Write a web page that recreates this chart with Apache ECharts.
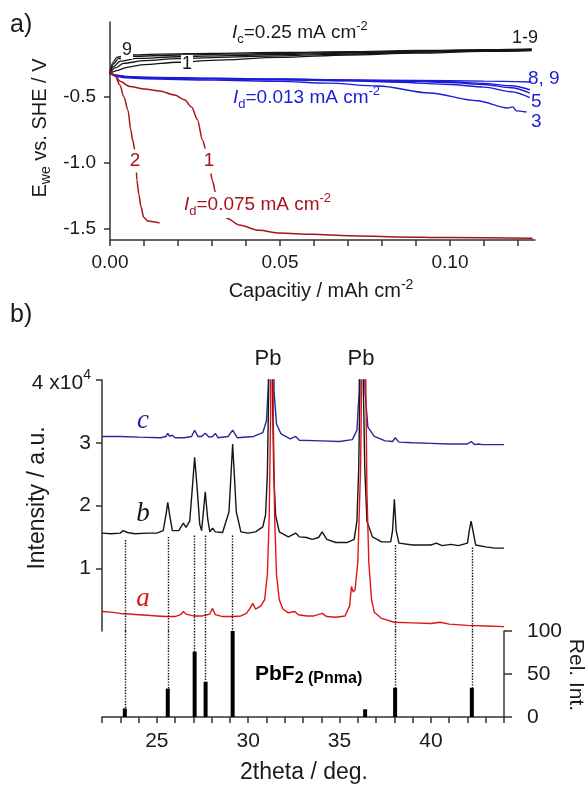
<!DOCTYPE html>
<html><head><meta charset="utf-8">
<script src="https://cdn.jsdelivr.net/npm/echarts@6/dist/echarts.min.js"></script>
<style>html,body{margin:0;padding:0;background:#fff}#c{width:586px;height:788px}</style>
</head><body><div id="c"></div>
<script>
// ---------- Panel a: galvanostatic curves (capacity / mAh cm^-2, E / V) ----------
const chg1 = [[0,-0.32],[0.002,-0.3],[0.005,-0.275],[0.01,-0.255],[0.02,-0.237],[0.03,-0.222],[0.05,-0.2],[0.07,-0.182],[0.09,-0.168],[0.11,-0.155],[0.124,-0.148]];
const chg3 = [[0,-0.32],[0.0015,-0.28],[0.004,-0.245],[0.01,-0.225],[0.02,-0.21],[0.035,-0.198],[0.05,-0.188],[0.07,-0.175],[0.09,-0.162],[0.11,-0.152],[0.124,-0.146]];
const chg5 = [[0,-0.32],[0.001,-0.27],[0.003,-0.228],[0.008,-0.208],[0.02,-0.195],[0.035,-0.186],[0.05,-0.178],[0.07,-0.168],[0.09,-0.158],[0.11,-0.15],[0.124,-0.143]];
const chg7 = [[0,-0.32],[0.001,-0.25],[0.0025,-0.21],[0.006,-0.192],[0.02,-0.183],[0.035,-0.176],[0.05,-0.17],[0.07,-0.162],[0.09,-0.153],[0.11,-0.146],[0.124,-0.14]];
const chg9 = [[0,-0.32],[0.0008,-0.24],[0.002,-0.2],[0.005,-0.182],[0.015,-0.175],[0.03,-0.17],[0.05,-0.163],[0.07,-0.156],[0.09,-0.148],[0.11,-0.142],[0.124,-0.136]];

const dis9 = [[0,-0.32],[0.002,-0.335],[0.005,-0.345],[0.01,-0.35],[0.03,-0.358],[0.05,-0.364],[0.07,-0.37],[0.09,-0.375],[0.11,-0.38],[0.124,-0.386]];
const dis7 = [[0,-0.32],[0.002,-0.337],[0.005,-0.347],[0.01,-0.352],[0.03,-0.36],[0.05,-0.366],[0.07,-0.372],[0.09,-0.38],[0.1,-0.385],[0.11,-0.397],[0.118,-0.415],[0.1235,-0.445]];
const dis6 = [[0,-0.32],[0.002,-0.338],[0.005,-0.348],[0.01,-0.353],[0.03,-0.361],[0.05,-0.368],[0.07,-0.375],[0.09,-0.382],[0.1,-0.39],[0.11,-0.405],[0.118,-0.43],[0.1235,-0.47]];
const dis5 = [[0,-0.32],[0.002,-0.34],[0.005,-0.35],[0.01,-0.355],[0.03,-0.362],[0.05,-0.37],[0.07,-0.378],[0.085,-0.388],[0.1,-0.405],[0.11,-0.425],[0.118,-0.46],[0.1235,-0.505]];
const dis3 = [[0,-0.32],[0.002,-0.345],[0.005,-0.355],[0.01,-0.362],[0.03,-0.372],[0.05,-0.382],[0.064,-0.395],[0.079,-0.417],[0.094,-0.47],[0.108,-0.528],[0.117,-0.583],[0.1185,-0.575],[0.1195,-0.605],[0.1225,-0.614]];

const red1 = [[0,-0.3],[0.0015,-0.34],[0.0029,-0.38],[0.0058,-0.42],[0.0102,-0.44],[0.0146,-0.455],[0.019,-0.485],[0.0219,-0.52],[0.024,-0.576],[0.0257,-0.67],[0.0272,-0.826],[0.0284,-0.92],[0.0292,-1.015],[0.0301,-1.13],[0.031,-1.22],[0.0322,-1.31],[0.0345,-1.42],[0.038,-1.47],[0.0439,-1.51],[0.0497,-1.53],[0.0594,-1.54],[0.0702,-1.55],[0.0848,-1.56],[0.0994,-1.565],[0.1243,-1.57]];
const red2 = [[0,-0.3],[0.0015,-0.34],[0.0029,-0.41],[0.0041,-0.5],[0.0053,-0.6],[0.0061,-0.75],[0.0067,-0.83],[0.0073,-0.9],[0.0076,-0.977],[0.0079,-1.13],[0.0085,-1.24],[0.0091,-1.33],[0.0099,-1.41],[0.0111,-1.44],[0.0132,-1.447],[0.0146,-1.455]];

const capTicks = [0,0.01,0.02,0.03,0.04,0.05,0.06,0.07,0.08,0.09,0.10,0.11,0.12];
const capLabels = [0,0.05,0.10];
const eTicks = [-1.5,-1.0,-0.5];

// ---------- Panel b: XRD (2theta / deg, intensity x10^4) ----------
const xrdC = [[22,3.1],[23,3.1],[24,3.09],[25.2,3.08],[25.5,3.1],[25.6,3.15],[25.7,3.1],[25.85,3.12],[26.0,3.08],[26.5,3.08],[26.9,3.1],[27.07,3.2],[27.25,3.1],[27.45,3.1],[27.65,3.15],[27.85,3.09],[28.05,3.1],[28.2,3.15],[28.35,3.08],[28.9,3.1],[29.15,3.2],[29.4,3.08],[30.3,3.1],[30.8,3.16],[31.0,3.35],[31.1,3.9],[31.18,5.5],[31.25,10],[31.33,5.5],[31.42,3.8],[31.55,3.3],[31.8,3.14],[32.3,3.06],[32.6,3.1],[32.8,3.04],[34,3.03],[35,3.02],[35.7,3.05],[35.95,3.2],[36.07,3.8],[36.15,5.5],[36.22,10],[36.3,5.5],[36.4,3.8],[36.55,3.25],[36.9,3.1],[37.5,3.03],[37.9,3.02],[38.05,3.08],[38.25,3.01],[39,3.0],[40,2.99],[41,2.98],[42.0,2.98],[42.2,3.02],[42.4,2.97],[42.6,2.98],[42.8,2.97],[44,2.97]];
const xrdB = [[22,1.56],[22.5,1.55],[23.0,1.56],[23.15,1.6],[23.25,1.63],[23.4,1.57],[23.8,1.55],[24.5,1.56],[25.0,1.56],[25.35,1.6],[25.5,1.85],[25.6,2.05],[25.7,1.85],[25.85,1.6],[26.2,1.6],[26.45,1.72],[26.6,1.65],[26.8,1.75],[26.95,2.3],[27.07,2.77],[27.2,2.3],[27.35,1.7],[27.45,1.6],[27.55,1.9],[27.65,2.22],[27.78,1.8],[27.9,1.58],[28.05,1.64],[28.2,1.58],[28.6,1.57],[28.95,1.9],[29.15,2.98],[29.35,1.9],[29.6,1.58],[30.0,1.56],[30.4,1.58],[30.8,1.66],[30.95,1.85],[31.05,2.5],[31.12,3.8],[31.17,6],[31.22,10],[31.27,6],[31.33,3.8],[31.4,2.5],[31.5,1.85],[31.7,1.58],[32.2,1.5],[32.6,1.56],[32.8,1.5],[33.2,1.49],[33.5,1.46],[33.85,1.49],[34.05,1.58],[34.3,1.46],[34.8,1.41],[35.4,1.41],[35.8,1.46],[35.95,1.75],[36.05,2.6],[36.11,3.8],[36.16,6],[36.2,10],[36.25,6],[36.31,3.8],[36.38,2.6],[36.5,1.75],[36.8,1.5],[37.3,1.42],[37.8,1.42],[37.9,1.6],[38.0,2.1],[38.1,1.6],[38.25,1.4],[39,1.37],[40,1.37],[40.3,1.4],[40.6,1.36],[41.1,1.38],[41.5,1.36],[42.0,1.4],[42.1,1.6],[42.2,1.75],[42.3,1.6],[42.45,1.37],[43,1.34],[43.5,1.32],[44,1.32]];
const xrdA = [[22,0.31],[22.5,0.3],[23,0.28],[23.5,0.27],[24,0.26],[24.5,0.25],[25,0.24],[25.5,0.23],[26,0.23],[26.3,0.26],[26.45,0.31],[26.6,0.27],[27,0.24],[27.5,0.24],[27.9,0.27],[28.05,0.36],[28.2,0.26],[28.6,0.23],[29.2,0.23],[29.6,0.24],[29.9,0.28],[30.1,0.36],[30.25,0.44],[30.4,0.35],[30.7,0.4],[30.9,0.5],[31.05,0.9],[31.15,1.8],[31.23,3.5],[31.3,10],[31.37,3.5],[31.45,1.8],[31.55,0.9],[31.7,0.5],[31.9,0.35],[32.2,0.29],[32.55,0.31],[32.75,0.26],[33.2,0.24],[33.6,0.24],[34.05,0.28],[34.3,0.23],[34.8,0.22],[35.3,0.24],[35.55,0.4],[35.65,0.71],[35.75,0.62],[35.85,0.66],[36.0,1.1],[36.15,2.6],[36.25,5],[36.32,10],[36.4,5],[36.5,2.2],[36.6,1.1],[36.75,0.5],[36.9,0.3],[37.3,0.2],[38,0.14],[39,0.13],[40,0.12],[40.5,0.14],[41,0.11],[42,0.09],[43,0.08],[44,0.07]];

const stickX = [23.25,25.6,27.07,27.67,29.15,36.4,38.04,42.24];
const stickH = [10,33,76,41,100,9,34,34];
const dotX   = [23.25,25.6,27.07,27.67,29.15,38.04,42.24];
const dotTop = [1.45,1.5,1.52,1.52,1.52,1.37,1.33];
const dotBottom = [10,33,76,41,100,34,34];

const thetaTicks = [22,23,24,25,26,27,28,29,30,31,32,33,34,35,36,37,38,39,40,41,42,43,44];
const thetaLabels = [25,30,35,40];
const intTicks = [1,2,3,4];
const relTicks = [0,50,100];

// ---------- styling ----------
const FF = "'Liberation Sans', Arial, Helvetica, sans-serif";
const SERIF = "'Liberation Serif', 'Times New Roman', serif";
const AX = '#333';
const TXT = '#1a1a1a';
const BLACK = '#151515', BLUE = '#1c1cd8', DRED = '#a8141c';
const XBLUE = '#28289a', XRED = '#e01414';

function rich(color, size) {
  const s = Math.round(size * 0.68);
  return {
    m:{fontSize:size, fontFamily:FF, fill:color, lineHeight:26},
    mi:{fontSize:size, fontFamily:FF, fill:color, fontStyle:'italic', lineHeight:26},
    sb:{fontSize:s, fontFamily:FF, fill:color, verticalAlign:'bottom', lineHeight:s+1},
    sp:{fontSize:s, fontFamily:FF, fill:color, verticalAlign:'top', lineHeight:s+1},
    bm:{fontSize:size, fontFamily:FF, fill:color, fontWeight:'bold', lineHeight:26},
    bs:{fontSize:Math.round(size*0.78), fontFamily:FF, fill:color, fontWeight:'bold', verticalAlign:'bottom', lineHeight:Math.round(size*0.78)+1}
  };
}
function T(x, y, text, o) {
  o = Object.assign({}, o || {});
  const rot = o.rot; delete o.rot;
  const size = o.fontSize || 19;
  const style = Object.assign({text:text, fontSize:size, fontFamily:FF, fill:TXT, align:'left', verticalAlign:'middle', rich:rich(o.fill||TXT, size)}, o);
  const el = {type:'text', x:x, y:y, z:100, silent:true, style:style};
  if (rot !== undefined) el.rotation = rot;
  return el;
}

function line(xi, data, color, w, smooth) {
  return {type:'line', xAxisIndex:xi, yAxisIndex:xi, data:data, showSymbol:false, symbol:'none',
    smooth: smooth ? 0.3 : false, smoothMonotone:'x', silent:true,
    lineStyle:{color:color, width:w}, z:3};
}

const axisLineStyle = {color:AX, width:1.5};
const lab = (size, margin) => ({fontSize:size, fontFamily:FF, color:TXT, margin:margin});

const option = {
  animation:false,
  backgroundColor:'#fff',
  grid:[
    {left:110, top:22, width:425, height:218, containLabel:false, outerBoundsMode:'none'},
    {left:102, top:380, width:402, height:251, containLabel:false, outerBoundsMode:'none'},
    {left:102, top:631, width:402, height:86, containLabel:false, outerBoundsMode:'none'}
  ],
  xAxis:[
    {gridIndex:0, type:'value', min:0, max:0.125,
     axisLine:{show:true, onZero:false, lineStyle:axisLineStyle},
     axisTick:{show:true, length:6, customValues:capTicks, lineStyle:axisLineStyle},
     axisLabel:Object.assign(lab(19,13), {customValues:capLabels, formatter:v=>v.toFixed(2)}),
     splitLine:{show:false}},
    {gridIndex:1, type:'value', min:22, max:44, show:false},
    {gridIndex:2, type:'value', min:22, max:44,
     axisLine:{show:true, onZero:false, lineStyle:axisLineStyle},
     axisTick:{show:true, length:6, customValues:thetaTicks, lineStyle:axisLineStyle},
     axisLabel:Object.assign(lab(21,14), {customValues:thetaLabels}),
     splitLine:{show:false}}
  ],
  yAxis:[
    {gridIndex:0, type:'value', min:-1.583, max:0.068,
     axisLine:{show:true, onZero:false, lineStyle:axisLineStyle},
     axisTick:{show:true, length:6, customValues:eTicks, lineStyle:axisLineStyle},
     axisLabel:Object.assign(lab(19,14), {customValues:eTicks, formatter:v=>v.toFixed(1)}),
     splitLine:{show:false}},
    {gridIndex:1, type:'value', min:0, max:4,
     axisLine:{show:true, onZero:false, lineStyle:axisLineStyle},
     axisTick:{show:true, length:6, customValues:intTicks, lineStyle:axisLineStyle},
     axisLabel:Object.assign(lab(21,11), {customValues:intTicks,
        formatter:v=> v===4 ? '{b|4 x10}{s|4}' : String(v),
        rich:{b:{fontSize:21, fontFamily:FF, color:TXT, lineHeight:24, padding:[6,0,0,0]}, s:{fontSize:14, fontFamily:FF, color:TXT, verticalAlign:'top', lineHeight:15}}}),
     splitLine:{show:false}},
    {gridIndex:2, type:'value', min:0, max:100, position:'right',
     axisLine:{show:true, onZero:false, lineStyle:axisLineStyle},
     axisTick:{show:true, length:8, customValues:relTicks, lineStyle:axisLineStyle},
     axisLabel:Object.assign(lab(21,23), {customValues:relTicks}),
     splitLine:{show:false}}
  ],
  series:[
    line(0, chg1, BLACK, 1.3, true), line(0, chg3, BLACK, 1.3, true), line(0, chg5, BLACK, 1.3, true),
    line(0, chg7, BLACK, 1.3, true), line(0, chg9, BLACK, 1.3, true),
    line(0, dis9, BLUE, 1.4, true), line(0, dis7, BLUE, 1.4, true), line(0, dis6, BLUE, 1.4, true),
    line(0, dis5, BLUE, 1.4, true), line(0, dis3, BLUE, 1.4, true),
    line(0, red1, DRED, 1.5, true), line(0, red2, DRED, 1.5, true),
    line(1, xrdC, XBLUE, 1.4, false),
    Object.assign(line(1, xrdB, BLACK, 1.4, false), {
      markLine:{silent:true, symbol:['none','none'], label:{show:false}, animation:false,
        lineStyle:{type:'dotted', color:'#111', width:1.4},
        data: dotX.map((x,i)=>[{coord:[x,dotTop[i]]},{coord:[x,0]}])}
    }),
    line(1, xrdA, XRED, 1.4, false),
    {type:'bar', xAxisIndex:2, yAxisIndex:2, barWidth:4, silent:true,
     itemStyle:{color:'#000'}, data: stickX.map((x,i)=>[x, stickH[i]]),
     markLine:{silent:true, symbol:['none','none'], label:{show:false}, animation:false,
        lineStyle:{type:'dotted', color:'#111', width:1.4},
        data: dotX.map((x,i)=>[{coord:[x,100]},{coord:[x,dotBottom[i]]}])}}
  ],
  graphic:[
    T(10, 25, 'a)', {fontSize:25}),
    T(10, 315, 'b)', {fontSize:25}),
    // panel a annotations
    T(127, 50, '9', {align:'center', fontSize:18, backgroundColor:'#fff', padding:[0,1,0,1]}),
    T(187, 64, '1', {align:'center', fontSize:18, backgroundColor:'#fff', padding:[0,1,0,1]}),
    T(232, 33, '{mi|I}{sb|c}{m|=0.25 mA cm}{sp|-2}'),
    T(512, 38, '1-9', {fontSize:18}),
    T(233, 98, '{mi|I}{sb|d}{m|=0.013 mA cm}{sp|-2}', {fill:BLUE}),
    T(528, 79, '8, 9', {fill:BLUE}),
    T(531, 102, '5', {fill:BLUE}),
    T(531, 122, '3', {fill:BLUE}),
    T(135, 161, '2', {align:'center', fill:DRED, backgroundColor:'#fff', padding:[2,1,2,1]}),
    T(209, 161, '1', {align:'center', fill:DRED, backgroundColor:'#fff', padding:[3,1,3,1]}),
    T(184, 205, '{mi|I}{sb|d}{m|=0.075 mA cm}{sp|-2}', {fill:DRED, backgroundColor:'#fff', padding:[0,2,0,0]}),
    T(40, 128, '{m|E}{sb|we}{m| vs. SHE / V}', {align:'center', fontSize:20, rot:Math.PI/2}),
    T(321, 291, '{m|Capacitiy / mAh cm}{sp|-2}', {align:'center', fontSize:20}),
    // panel b annotations
    T(268, 359, 'Pb', {align:'center', fontSize:22}),
    T(361, 359, 'Pb', {align:'center', fontSize:22}),
    T(143, 421, 'c', {align:'center', fontSize:27, fontStyle:'italic', fontFamily:SERIF, fill:XBLUE}),
    T(143, 514, 'b', {align:'center', fontSize:27, fontStyle:'italic', fontFamily:SERIF, fill:BLACK}),
    T(143, 599, 'a', {align:'center', fontSize:27, fontStyle:'italic', fontFamily:SERIF, fill:XRED}),
    T(255, 674, '{bm|PbF}{bs|2 (Pnma)}', {fill:'#000', fontSize:21}),
    T(38, 498, 'Intensity / a.u.', {align:'center', fontSize:23, rot:Math.PI/2}),
    T(576, 675, 'Rel. Int.', {align:'center', fontSize:21, rot:-Math.PI/2}),
    T(304, 773, '2theta / deg.', {align:'center', fontSize:23})
  ]
};

const chart = echarts.init(document.getElementById('c'), null, {renderer:'canvas'});
chart.setOption(option);
</script></body></html>
